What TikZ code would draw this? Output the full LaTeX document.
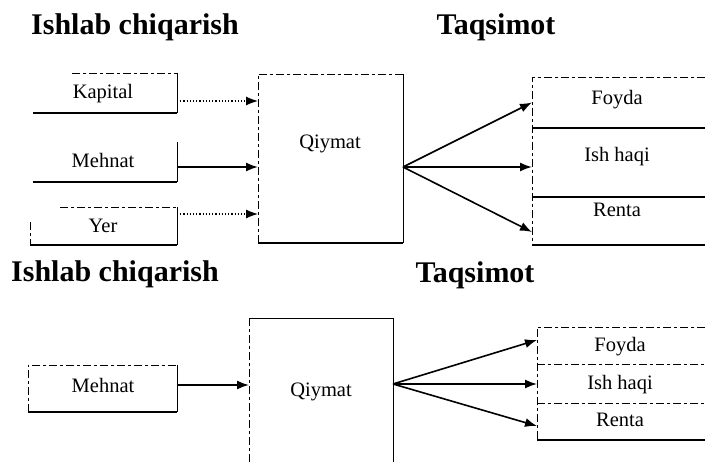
\documentclass[tikz,border=0pt]{standalone}
\usepackage{fontspec}
\setmainfont{Liberation Serif}
\usetikzlibrary{arrows.meta}

\begin{document}
\begin{tikzpicture}[x=1pt, y=-1pt, >={Latex[length=12pt,width=9pt]},
                    every node/.style={font=\fontsize{20.5}{24}\selectfont}]
    \tikzstyle{title}=[font=\fontsize{30}{34}\selectfont\bfseries, anchor=base]
    \tikzstyle{word}=[anchor=base, inner sep=0pt]
    \tikzstyle{frame}=[inner sep=0pt, outer sep=0pt]
    \tikzstyle{thinedge}=[line width=1pt]
    \tikzstyle{dashedge}=[line width=0.8pt, dash pattern=on 8pt off 3pt on 3pt off 3pt]
    \tikzstyle{heavyedge}=[line width=2.2pt]
    \tikzstyle{flow}=[->, line width=1.6pt]
    \tikzstyle{dotflow}=[->, line width=1.2pt, dotted]

    \useasboundingbox (0,0) rectangle (705,462);

    % titles
    \node[title] (prodA) at (135,35)  {Ishlab chiqarish};
    \node[title] (distA) at (496,35)  {Taqsimot};
    \node[title] (prodB) at (115,282) {Ishlab chiqarish};
    \node[title] (distB) at (475,283) {Taqsimot};

    % upper scheme: boxes
    \node[frame, minimum width=144pt, minimum height=40pt]  (kapBox)   at (105,93)      {};
    \node[frame, minimum width=144pt, minimum height=40pt]  (mehBox)   at (105,162)     {};
    \node[frame, minimum width=147pt, minimum height=38pt]  (yerBox)   at (103.5,226)   {};
    \node[frame, minimum width=145pt, minimum height=169pt] (valBoxA)  at (330.5,158.5) {};
    \node[frame, minimum width=173pt, minimum height=51pt]  (foyBox)   at (618.5,102.5) {};
    \node[frame, minimum width=173pt, minimum height=69pt]  (ishBox)   at (618.5,162.5) {};
    \node[frame, minimum width=173pt, minimum height=48pt]  (renBox)   at (618.5,221)   {};

    \node[word] (kapital) at (103,99)  {Kapital};
    \node[word] (mehnat)  at (103,168) {Mehnat};
    \node[word] (yer)     at (103,233) {Yer};
    \node[word] (qiymatA) at (330,149) {Qiymat};
    \node[word] (foydaA)  at (617,105) {Foyda};
    \node[word] (ishA)    at (617,162) {Ish haqi};
    \node[word] (rentaA)  at (617,217) {Renta};

    \draw[dashedge]  ([xshift=39pt]kapBox.north west) -- (kapBox.north east);
    \draw[thinedge]  (kapBox.north east) -- (kapBox.south east);
    \draw[heavyedge] (kapBox.south west) -- (kapBox.south east);
    \draw[thinedge]  (mehBox.north east) -- (mehBox.south east);
    \draw[heavyedge] (mehBox.south west) -- (mehBox.south east);
    \draw[dashedge]  ([xshift=30pt]yerBox.north west) -- (yerBox.north east);
    \draw[dashedge]  ([yshift=-15pt]yerBox.north west) -- (yerBox.south west);
    \draw[thinedge]  (yerBox.north east) -- (yerBox.south east);
    \draw[heavyedge] (yerBox.south west) -- (yerBox.south east);

    \draw[dashedge]  (valBoxA.south west) -- (valBoxA.north west) -- (valBoxA.north east);
    \draw[thinedge]  (valBoxA.north east) -- (valBoxA.south east);
    \draw[line width=1.6pt] (valBoxA.south west) -- (valBoxA.south east);

    \draw[dashedge]  (foyBox.north east) -- (foyBox.north west) -- (renBox.south west);
    \draw[line width=1.4pt] (foyBox.south west) -- (foyBox.south east);
    \draw[line width=1.4pt] (ishBox.south west) -- (ishBox.south east);
    \draw[heavyedge] (renBox.south west) -- (renBox.south east);

    % upper scheme: arrows
    \coordinate (fanA) at ([yshift=-8.5pt]valBoxA.east);
    \draw[dotflow] ([yshift=-8pt]kapBox.east) -- ([yshift=-8pt]kapBox.east -| valBoxA.west);
    \draw[flow]    ([yshift=-5pt]mehBox.east) -- ([yshift=-5pt]mehBox.east -| valBoxA.west);
    \draw[dotflow] ([yshift=12pt]yerBox.east) -- ([yshift=12pt]yerBox.east -| valBoxA.west);
    \draw[flow] (fanA) -- (foyBox.west);
    \draw[flow] (fanA) -- (fanA -| ishBox.west);
    \draw[flow] (fanA) -- ([yshift=-11pt]renBox.west);

    % lower scheme: boxes
    \node[frame, minimum width=149pt, minimum height=47pt]  (mehBoxB)  at (102.5,388.5) {};
    \node[frame, minimum width=144pt, minimum height=143pt] (valBoxB)  at (321,390.5)   {};
    \node[frame, minimum width=168pt, minimum height=37pt]  (foyBoxB)  at (621,345.5)   {};
    \node[frame, minimum width=168pt, minimum height=39pt]  (ishBoxB)  at (621,383.5)   {};
    \node[frame, minimum width=168pt, minimum height=37pt]  (renBoxB)  at (621,421.5)   {};

    \node[word] (mehnatB) at (103,393) {Mehnat};
    \node[word] (qiymatB) at (321,397) {Qiymat};
    \node[word] (foydaB)  at (620,352) {Foyda};
    \node[word] (ishB)    at (620,390) {Ish haqi};
    \node[word] (rentaB)  at (620,427) {Renta};

    \draw[dashedge]  (mehBoxB.south west) -- (mehBoxB.north west) -- (mehBoxB.north east);
    \draw[thinedge]  (mehBoxB.north east) -- (mehBoxB.south east);
    \draw[heavyedge] (mehBoxB.south west) -- (mehBoxB.south east);

    \draw[dashedge]  (valBoxB.south west) -- (valBoxB.north west);
    \draw[thinedge]  (valBoxB.north west) -- (valBoxB.north east) -- (valBoxB.south east);

    \draw[dashedge]  (foyBoxB.north east) -- (foyBoxB.north west) -- (renBoxB.south west);
    \draw[dashedge]  (foyBoxB.south west) -- (foyBoxB.south east);
    \draw[dashedge]  (ishBoxB.south west) -- (ishBoxB.south east);
    \draw[heavyedge] (renBoxB.south west) -- (renBoxB.south east);

    % lower scheme: arrows
    \coordinate (fanB) at ([yshift=6.5pt]valBoxB.east);
    \draw[flow] ([yshift=3.5pt]mehBoxB.east) -- ([yshift=3.5pt]mehBoxB.east -| valBoxB.west);
    \draw[flow] (fanB) -- ([yshift=5.5pt]foyBoxB.west);
    \draw[flow] (fanB) -- (fanB -| ishBoxB.west);
    \draw[flow] (fanB) -- ([yshift=-4.5pt]renBoxB.west);
\end{tikzpicture}
\end{document}
